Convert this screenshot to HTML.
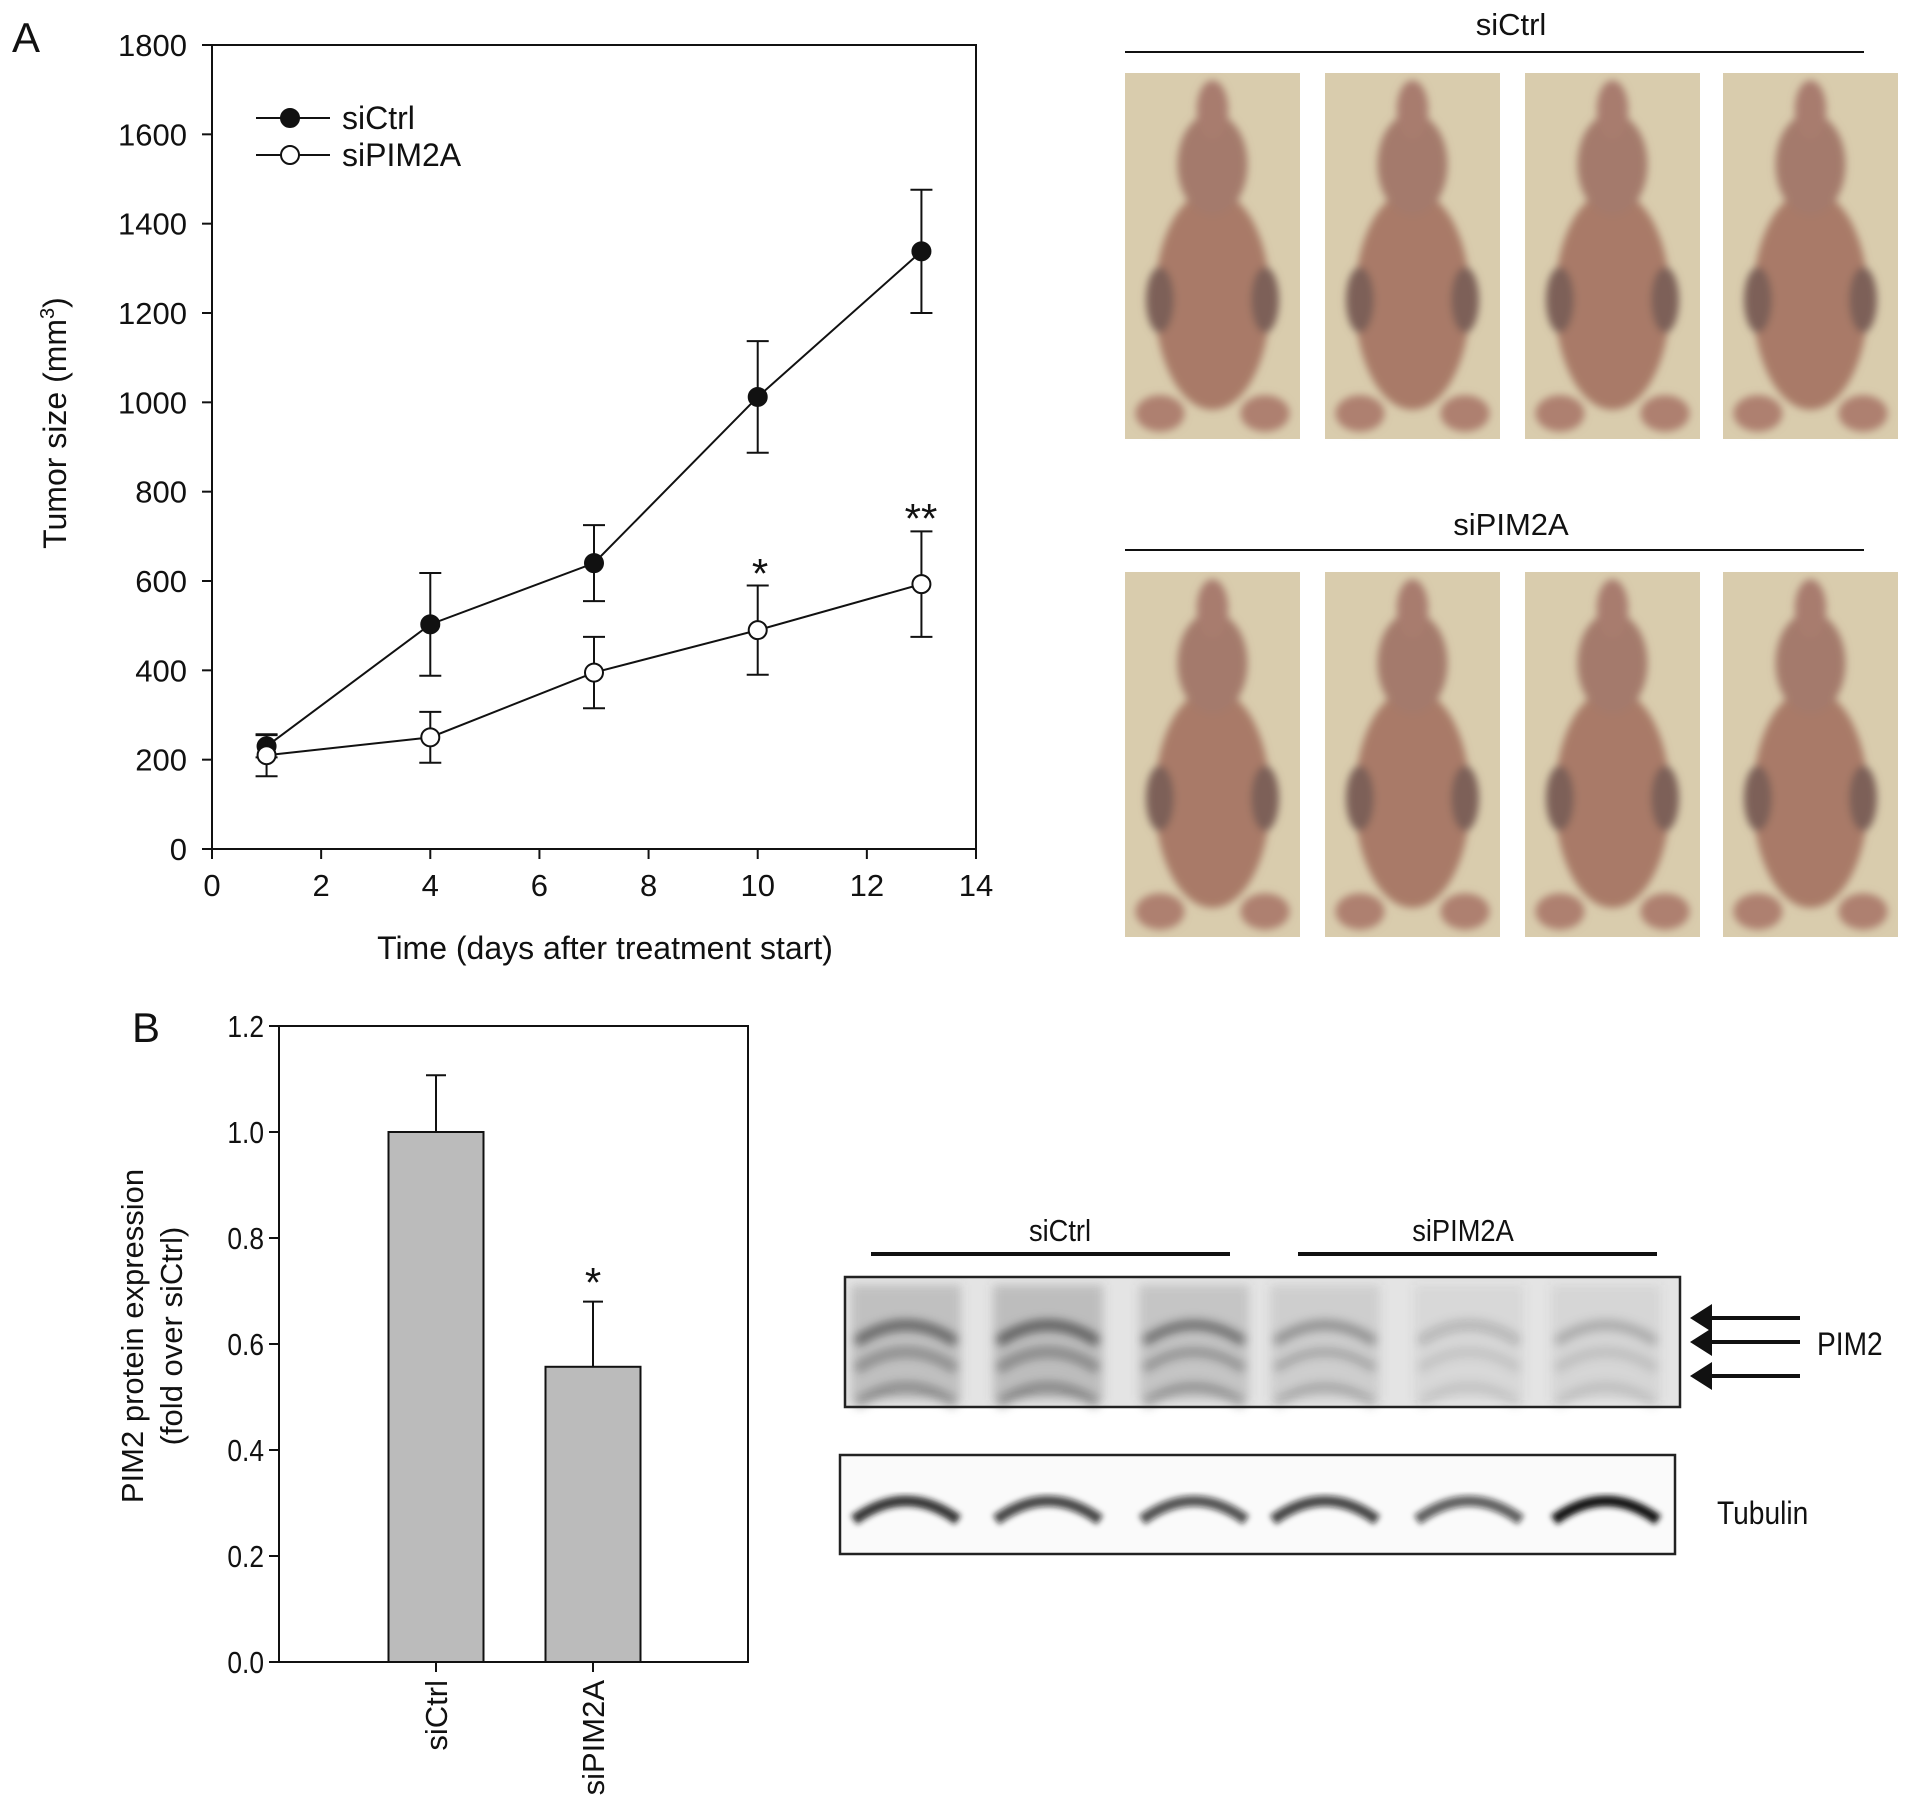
<!DOCTYPE html>
<html><head><meta charset="utf-8"><style>
body{margin:0;background:#fff}
svg{display:block}
text{font-family:"Liberation Sans",sans-serif;fill:#111}
</style></head><body>
<svg id="s" width="1913" height="1819" viewBox="0 0 1913 1819" xmlns="http://www.w3.org/2000/svg">
<defs>
<filter id="blur" x="-20%" y="-50%" width="140%" height="200%"><feGaussianBlur stdDeviation="5"/></filter>
<filter id="blur2" x="-20%" y="-50%" width="140%" height="200%"><feGaussianBlur stdDeviation="3"/></filter>
<filter id="blurM"><feGaussianBlur stdDeviation="4"/></filter>
</defs>
<text x="12" y="52" font-size="42">A</text>
<g id="chartA"></g>
<text x="132" y="1042" font-size="42">B</text>
<g id="chartB"></g>
<g id="photos"></g>
<g id="blot"></g>
</svg>
<script>
// ---- Chart A data ----
const days = [1, 4, 7, 10, 13];
const ctrlMean = [230, 503, 640, 1012, 1338];
const ctrlErr = [25, 115, 85, 125, 138];
const pimMean = [210, 250, 395, 490, 593];
const pimErr = [47, 57, 80, 100, 118];
const xTicksA = [0, 2, 4, 6, 8, 10, 12, 14];
const yTicksA = [0, 200, 400, 600, 800, 1000, 1200, 1400, 1600, 1800];
// ---- Chart B data ----
const barCats = ['siCtrl', 'siPIM2A'];
const barVals = [1.0, 0.557];
const barErr = [0.107, 0.123];
const yTicksB = ['0.0', '0.2', '0.4', '0.6', '0.8', '1.0', '1.2'];

const NS = 'http://www.w3.org/2000/svg';
function mk(parent, tag, attrs, txt) {
  const e = document.createElementNS(NS, tag);
  for (const k in attrs) e.setAttribute(k, attrs[k]);
  if (txt !== undefined) e.textContent = txt;
  parent.appendChild(e);
  return e;
}

// ---------- Chart A ----------
(function () {
  const g = document.getElementById('chartA');
  const L = 212, R = 976, T = 45, B = 849;
  const xs = v => L + (v - 0) / 14 * (R - L);
  const ys = v => B - v / 1800 * (B - T);
  let e = mk(g, 'rect', {x: L, y: T, width: R - L, height: B - T, fill: 'none', stroke: '#111', 'stroke-width': 2});
   
  xTicksA.forEach(t => {
    const ln = mk(g, 'line', {x1: xs(t), x2: xs(t), y1: B, y2: B + 10, stroke: '#111', 'stroke-width': 2});
     
    const tx = mk(g, 'text', {x: xs(t), y: B + 47, 'font-size': 31, 'text-anchor': 'middle'}, t);
     
  });
  yTicksA.forEach(t => {
    const ln = mk(g, 'line', {x1: L - 10, x2: L, y1: ys(t), y2: ys(t), stroke: '#111', 'stroke-width': 2});
     
    const tx = mk(g, 'text', {x: L - 25, y: ys(t) + 11, 'font-size': 31, 'text-anchor': 'end'}, t);
     
  });
  e = mk(g, 'text', {x: 605, y: 959, 'font-size': 32, 'text-anchor': 'middle'}, 'Time (days after treatment start)');
   
  e = mk(g, 'text', {x: 0, y: 0, 'font-size': 32, 'text-anchor': 'middle', transform: 'translate(66,423) rotate(-90)'});
   
  e.innerHTML = 'Tumor size (mm<tspan font-size="20" dy="-12">3</tspan><tspan dy="12">)</tspan>';

  function series(mean, err, fill, name) {
    const pts = days.map((d, i) => xs(d) + ',' + ys(mean[i])).join(' ');
    let p = mk(g, 'polyline', {points: pts, fill: 'none', stroke: '#111', 'stroke-width': 2});
     
    days.forEach((d, i) => {
      const x = xs(d), y1 = ys(mean[i] + err[i]), y2 = ys(mean[i] - err[i]);
      const eb = mk(g, 'path', {d: `M${x},${y1}V${y2}M${x - 11},${y1}H${x + 11}M${x - 11},${y2}H${x + 11}`, stroke: '#111', 'stroke-width': 2, fill: 'none'});
       
    });
    days.forEach((d, i) => {
      const c = mk(g, 'circle', {cx: xs(d), cy: ys(mean[i]), r: 9, fill: fill, stroke: '#111', 'stroke-width': 2});
       
    });
  }
  series(ctrlMean, ctrlErr, '#111', 'sictrl');
  series(pimMean, pimErr, '#fff', 'sipim2a');

  e = mk(g, 'text', {x: 760, y: 588, 'font-size': 42, 'text-anchor': 'middle', fill: '#444'}, '*');
   
  e = mk(g, 'text', {x: 921, y: 533, 'font-size': 42, 'text-anchor': 'middle', fill: '#444'}, '**');
   

  [['siCtrl', '#111', 118], ['siPIM2A', '#fff', 155]].forEach(([lab, f, y]) => {
    const lg = mk(g, 'g', {});
     
    mk(lg, 'line', {x1: 256, x2: 330, y1: y, y2: y, stroke: '#111', 'stroke-width': 2});
    mk(lg, 'circle', {cx: 290, cy: y, r: 9, fill: f, stroke: '#111', 'stroke-width': 2});
    mk(lg, 'text', {x: 342, y: y + 11, 'font-size': 32}, lab);
  });
})();

// ---------- Chart B ----------
(function () {
  const g = document.getElementById('chartB');
  const L = 279, R = 748, T = 1026, B = 1662;
  const ys = v => B - v / 1.2 * (B - T);
  const centers = [436, 593], bw = 95;
  let e = mk(g, 'rect', {x: L, y: T, width: R - L, height: B - T, fill: 'none', stroke: '#111', 'stroke-width': 2});
   
  yTicksB.forEach(t => {
    const v = parseFloat(t);
    const ln = mk(g, 'line', {x1: L - 10, x2: L, y1: ys(v), y2: ys(v), stroke: '#111', 'stroke-width': 2});
     
    const tx = mk(g, 'text', {x: 0, y: 0, 'font-size': 31, 'text-anchor': 'end', transform: `translate(${L - 15},${ys(v) + 11}) scale(0.85,1)`}, t);
     
  });
  barCats.forEach((c, i) => {
    const x = centers[i];
    const r = mk(g, 'rect', {x: x - bw / 2, y: ys(barVals[i]), width: bw, height: B - ys(barVals[i]), fill: '#bbbbbb', stroke: '#111', 'stroke-width': 2});
     
    const y1 = ys(barVals[i] + barErr[i]);
    const eb = mk(g, 'path', {d: `M${x},${ys(barVals[i])}V${y1}M${x - 10},${y1}H${x + 10}`, stroke: '#111', 'stroke-width': 2, fill: 'none'});
     
    const tk = mk(g, 'line', {x1: x, x2: x, y1: B, y2: B + 10, stroke: '#111', 'stroke-width': 2});
     
    const tx = mk(g, 'text', {x: 0, y: 0, 'font-size': 31, 'text-anchor': 'end', transform: `translate(${x + 11},${B + 18}) rotate(-90)`}, c);
     
  });
  e = mk(g, 'text', {x: 593, y: 1297, 'font-size': 42, 'text-anchor': 'middle', fill: '#444'}, '*');
   
  e = mk(g, 'text', {x: 0, y: 0, 'font-size': 31, 'text-anchor': 'middle', transform: 'translate(143,1336) rotate(-90)'}, 'PIM2 protein expression');
   
  e = mk(g, 'text', {x: 0, y: 0, 'font-size': 31, 'text-anchor': 'middle', transform: 'translate(182,1336) rotate(-90)'}, '(fold over siCtrl)');
   
})();

// ---------- Photos ----------
(function () {
  const g = document.getElementById('photos');
  const cols = [1125, 1325, 1525, 1723], w = 175;
  const groups = [['siCtrl', 24, 52, 73, 439], ['siPIM2A', 524, 550, 572, 937]];
  groups.forEach(([lab, ty, ly, y0, y1]) => {
    let e = mk(g, 'text', {x: 1511, y: ty + 11, 'font-size': 31, 'text-anchor': 'middle'}, lab);
     
    e = mk(g, 'line', {x1: 1125, x2: 1864, y1: ly, y2: ly, stroke: '#111', 'stroke-width': 2});
     
    cols.forEach(x => {
      const h = y1 - y0, cx = x + w / 2;
      const p = mk(g, 'g', {});
       
      mk(p, 'rect', {x: x, y: y0, width: w, height: h, fill: '#d9ccad'});
      const m = mk(p, 'g', {filter: 'url(#blurM)'});
      mk(m, 'ellipse', {cx: cx, cy: y0 + h * 0.62, rx: w * 0.33, ry: h * 0.3, fill: '#a97a68'});
      mk(m, 'ellipse', {cx: cx, cy: y0 + h * 0.25, rx: w * 0.2, ry: h * 0.14, fill: '#a47a6c'});
      mk(m, 'ellipse', {cx: cx, cy: y0 + h * 0.1, rx: w * 0.09, ry: h * 0.08, fill: '#a87c6e'});
      mk(m, 'ellipse', {cx: cx - w * 0.3, cy: y0 + h * 0.62, rx: w * 0.08, ry: h * 0.09, fill: '#7d6058'});
      mk(m, 'ellipse', {cx: cx + w * 0.3, cy: y0 + h * 0.62, rx: w * 0.08, ry: h * 0.09, fill: '#7d6058'});
      mk(m, 'ellipse', {cx: cx - w * 0.3, cy: y0 + h * 0.93, rx: w * 0.14, ry: h * 0.05, fill: '#ae8070'});
      mk(m, 'ellipse', {cx: cx + w * 0.3, cy: y0 + h * 0.93, rx: w * 0.14, ry: h * 0.05, fill: '#ae8070'});
    });
  });
})();

// ---------- Blot ----------
(function () {
  const g = document.getElementById('blot');
  const lanes = [906, 1048, 1194, 1325, 1469, 1606];
  const pimDark = [0.75, 0.8, 0.65, 0.45, 0.25, 0.3];
  const tubDark = [0.85, 0.75, 0.7, 0.75, 0.65, 1.0];
  let e;
  [['siCtrl', 1060, 871, 1230], ['siPIM2A', 1463, 1298, 1657]].forEach(([lab, cx, a, b]) => {
    e = mk(g, 'text', {x: 0, y: 0, 'font-size': 31, 'text-anchor': 'middle', transform: `translate(${cx},1241) scale(0.88,1)`}, lab);
     
    e = mk(g, 'line', {x1: a, x2: b, y1: 1254, y2: 1254, stroke: '#111', 'stroke-width': 4});
     
  });
  e = mk(g, 'rect', {x: 845, y: 1277, width: 835, height: 130, fill: '#e4e4e4', stroke: 'none'});
   
  lanes.forEach((x, i) => {
    const d = pimDark[i];
    const bg = mk(g, 'g', {filter: 'url(#blur)'});
     
    mk(bg, 'rect', {x: x - 55, y: 1285, width: 110, height: 115, fill: `rgba(90,90,90,${d * 0.35})`});
    [1330, 1357, 1392].forEach((y, j) => {
      mk(bg, 'path', {d: `M${x - 50},${y + 12} Q${x},${y - 22} ${x + 50},${y + 12}`, fill: 'none', stroke: `rgba(40,40,40,${d * (j === 0 ? 0.9 : 0.5)})`, 'stroke-width': 10});
    });
  });
  e = mk(g, 'rect', {x: 845, y: 1277, width: 835, height: 130, fill: 'none', stroke: '#222', 'stroke-width': 2.5});
   
  [1318, 1342, 1376].forEach(y => {
    const a = mk(g, 'path', {d: `M1690,${y} L1712,${y - 14} L1712,${y + 14} Z M1712,${y - 2} H1800 V${y + 2} H1712 Z`, fill: '#111'});
     
  });
  e = mk(g, 'text', {x: 0, y: 0, 'font-size': 32, transform: 'translate(1817,1355) scale(0.88,1)'}, 'PIM2');
   
  e = mk(g, 'rect', {x: 840, y: 1455, width: 835, height: 99, fill: '#fafafa', stroke: '#222', 'stroke-width': 2.5});
   
  lanes.forEach((x, i) => {
    const b = mk(g, 'path', {d: `M${x - 52},${1520} Q${x},${1482} ${x + 52},${1520}`, fill: 'none', stroke: `rgba(20,20,20,${tubDark[i]})`, 'stroke-width': 11, filter: 'url(#blur2)'});
     
  });
  e = mk(g, 'text', {x: 0, y: 0, 'font-size': 32, transform: 'translate(1717,1524) scale(0.88,1)'}, 'Tubulin');
   
})();
</script>
</body></html>
